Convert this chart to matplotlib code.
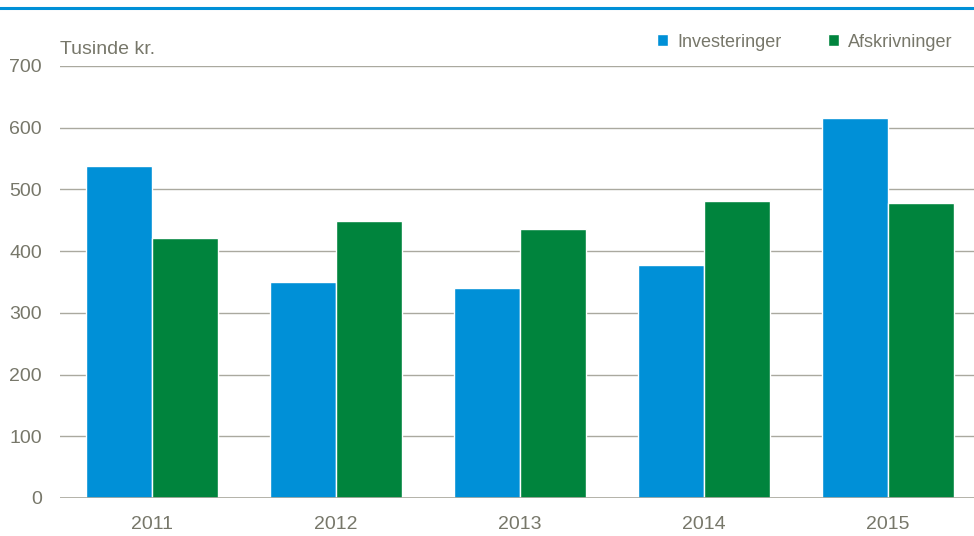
import matplotlib
matplotlib.use("Agg")
import matplotlib.pyplot as plt
import numpy as np
from matplotlib import font_manager

years = ["2011", "2012", "2013", "2014", "2015"]
investeringer = [538, 350, 340, 378, 616]
afskrivninger = [421, 449, 436, 481, 478]
yticks = [0, 100, 200, 300, 400, 500, 600, 700]

names = {f.name for f in font_manager.fontManager.ttflist}
fam = "Liberation Sans Narrow" if "Liberation Sans Narrow" in names else "Liberation Sans"
plt.rcParams['font.family'] = [fam, 'DejaVu Sans']

txt = "#77776a"
grid = "#aaa99f"
blue = "#0090d7"
green = "#00843d"

fig = plt.figure(figsize=(9.74, 5.36), dpi=100)
ax = fig.add_axes([60/974, 38/536, 920/974, 432/536])
x = np.arange(len(years))
w = 0.357
ax.bar(x - w/2, investeringer, w, color=blue, edgecolor="white", linewidth=1.0, label="Investeringer", zorder=3)
ax.bar(x + w/2, afskrivninger, w, color=green, edgecolor="white", linewidth=1.0, label="Afskrivninger", zorder=3)
ax.set_xlim(-0.5, 4.5)
ax.set_ylim(0, 700)
ax.set_yticks(yticks)
ax.set_xticks(x)
ax.set_xticklabels(years)
for s in ax.spines.values():
    s.set_visible(False)
ax.yaxis.grid(True, color=grid, linewidth=1.0, zorder=0)
ax.tick_params(axis='both', length=0, colors=txt, labelsize=14)
ax.tick_params(axis='y', pad=13)
ax.tick_params(axis='x', pad=13)
ax.axhline(0, color=grid, linewidth=1.2, zorder=4)

fig.text(60/974, 1 - 50/536, "Tusinde kr.", color=txt, fontsize=14, va="center", ha="left")
leg = fig.legend(loc="center", bbox_to_anchor=(805/974, 1 - 42/536), ncol=2, frameon=False,
                 fontsize=13, handlelength=0.6, handleheight=0.6, handletextpad=0.5,
                 columnspacing=2.6, labelcolor=txt)
fig.add_artist(plt.Line2D([0, 1], [1 - 8/536, 1 - 8/536], color=blue, linewidth=2.2, transform=fig.transFigure))
fig.savefig("out.png", dpi=100)
